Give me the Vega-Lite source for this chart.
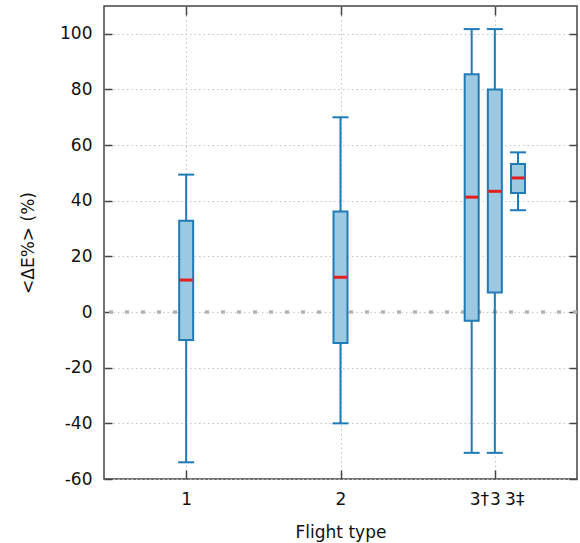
{
  "$schema": "https://vega.github.io/schema/vega-lite/v6.json",
  "width": 473,
  "height": 473,
  "autosize": "none",
  "padding": {"left": 104, "top": 6, "right": 3, "bottom": 64},
  "config": {
    "font": "DejaVu Sans",
    "view": {"stroke": "#444444", "strokeWidth": 1.5},
    "axis": {
      "labelFont": "DejaVu Sans",
      "titleFont": "DejaVu Sans",
      "labelFontSize": 17,
      "titleFontSize": 17,
      "labelColor": "#111111",
      "titleColor": "#111111",
      "titleFontWeight": "normal",
      "domain": false,
      "tickColor": "#444444",
      "tickWidth": 1.5,
      "gridColor": "#c4c4c4",
      "gridDash": [1.5, 3],
      "gridWidth": 1,
      "labelOverlap": false
    }
  },
  "datasets": {
    "boxes": [
      {"type": "1", "pos": 1, "lower": -54.0, "q1": -10.0, "median": 11.5, "q3": 32.8, "upper": 49.4},
      {"type": "2", "pos": 2, "lower": -40.0, "q1": -11.1, "median": 12.5, "q3": 36.1, "upper": 70.0},
      {"type": "3†", "pos": 2.85, "lower": -50.6, "q1": -3.1, "median": 41.3, "q3": 85.5, "upper": 101.7},
      {"type": "3", "pos": 3, "lower": -50.6, "q1": 7.0, "median": 43.4, "q3": 80.0, "upper": 101.7},
      {"type": "3‡", "pos": 3.15, "lower": 36.6, "q1": 42.8, "median": 48.2, "q3": 53.2, "upper": 57.4}
    ],
    "zero": [{"level": 0}]
  },
  "layer": [
    {
      "data": {"name": "zero"},
      "mark": {"type": "rule", "color": "#b4b4b4", "strokeWidth": 3.5, "strokeDash": [4, 12]},
      "encoding": {
        "y": {"field": "level", "type": "quantitative", "scale": {"domain": [-60, 110], "nice": false, "zero": false}, "axis": null}
      }
    },
    {
      "data": {"name": "boxes"},
      "mark": {"type": "rule", "color": "#1f7bb6", "strokeWidth": 2},
      "encoding": {
        "x": {"field": "pos", "type": "quantitative", "scale": {"domain": [0.5, 3.5], "nice": false, "zero": false},
          "axis": {"orient": "bottom", "values": [1, 2, 3], "labels": false, "grid": true, "tickSize": -9, "title": null}},
        "y": {"field": "lower", "type": "quantitative", "scale": {"domain": [-60, 110], "nice": false, "zero": false},
          "axis": {"orient": "left", "values": [-60, -40, -20, 0, 20, 40, 60, 80, 100], "grid": true, "tickSize": -8,
            "labelPadding": 20, "labelFontSize": 17, "labelExpr": "'' + datum.value",
            "title": "<ΔE%> (%)", "titleFontSize": 17, "titlePadding": 22}},
        "y2": {"field": "upper"}
      }
    },
    {
      "data": {"name": "boxes"},
      "mark": {"type": "bar", "size": 14, "fill": "#9cc8e2", "stroke": "#1f7bb6", "strokeWidth": 2},
      "encoding": {
        "x": {"field": "pos", "type": "quantitative", "scale": {"domain": [0.5, 3.5], "nice": false, "zero": false},
          "axis": {"orient": "top", "values": [1, 2, 3], "labels": false, "grid": false, "tickSize": -9, "title": null}},
        "y": {"field": "q1", "type": "quantitative", "scale": {"domain": [-60, 110], "nice": false, "zero": false},
          "axis": {"orient": "right", "values": [-60, -40, -20, 0, 20, 40, 60, 80, 100], "labels": false, "grid": false, "tickSize": -8, "title": null}},
        "y2": {"field": "q3"}
      }
    },
    {
      "data": {"name": "boxes"},
      "mark": {"type": "tick", "orient": "horizontal", "size": 13, "thickness": 3, "color": "#e3201b", "opacity": 1},
      "encoding": {
        "x": {"field": "pos", "type": "quantitative", "scale": {"domain": [0.5, 3.5], "nice": false, "zero": false},
          "axis": {"orient": "bottom", "values": [1, 2, 2.897, 3, 3.126], "ticks": false, "grid": false, "labelPadding": 12,
            "labelFontSize": 17,
            "labelExpr": "datum.value == 1 ? '1' : datum.value == 2 ? '2' : datum.value == 3 ? '3' : datum.value < 3 ? '3†' : '3‡'",
            "title": "Flight type", "titleFontSize": 17, "titlePadding": 17}},
        "y": {"field": "median", "type": "quantitative", "scale": {"domain": [-60, 110], "nice": false, "zero": false}, "axis": null}
      }
    },
    {
      "data": {"name": "boxes"},
      "mark": {"type": "tick", "orient": "horizontal", "size": 16, "thickness": 2, "color": "#1f7bb6", "opacity": 1},
      "encoding": {
        "x": {"field": "pos", "type": "quantitative", "scale": {"domain": [0.5, 3.5], "nice": false, "zero": false}, "axis": null},
        "y": {"field": "upper", "type": "quantitative", "scale": {"domain": [-60, 110], "nice": false, "zero": false}, "axis": null}
      }
    },
    {
      "data": {"name": "boxes"},
      "mark": {"type": "tick", "orient": "horizontal", "size": 16, "thickness": 2, "color": "#1f7bb6", "opacity": 1},
      "encoding": {
        "x": {"field": "pos", "type": "quantitative", "scale": {"domain": [0.5, 3.5], "nice": false, "zero": false}, "axis": null},
        "y": {"field": "lower", "type": "quantitative", "scale": {"domain": [-60, 110], "nice": false, "zero": false}, "axis": null}
      }
    }
  ],
  "resolve": {"axis": {"x": "independent", "y": "independent"}}
}
